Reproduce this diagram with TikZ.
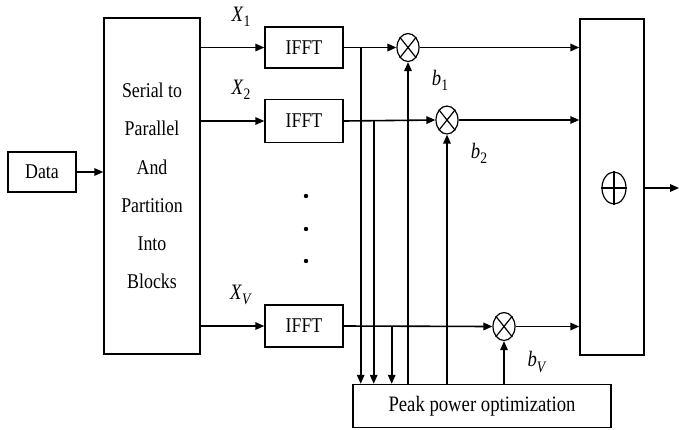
\documentclass[tikz,border=0pt]{standalone}
\usepackage{fontspec}
\setmainfont{Liberation Serif}[FakeStretch=0.85]
\usetikzlibrary{arrows.meta,shapes.geometric}
\newcommand\symb[2]{\textit{#1}\raisebox{-0.5ex}{\fontsize{16}{16}\selectfont #2}}
\begin{document}
\begin{tikzpicture}[x=1pt,y=-1pt, line width=1.6pt,
  font=\fontsize{21}{38.3}\selectfont,
  >={Triangle[length=9pt,width=7.5pt]},
  box/.style={draw, rectangle, inner sep=0pt, line width=1.4pt},
  mult/.style={draw, ellipse, minimum width=22pt, minimum height=28pt, inner sep=0pt, line width=1.2pt},
  lbl/.style={inner sep=0pt, font=\fontsize{22}{22}\selectfont}]
\useasboundingbox (0,0) rectangle (679,429);
% boxes
\node[box, minimum width=68pt, minimum height=40pt] (data) at (42,172) {Data};
\node[box, minimum width=96pt, minimum height=336pt, align=center] (sp) at (152,186)
  {Serial to\\Parallel\\And\\Partition\\Into\\Blocks};
\node[box, minimum width=78pt, minimum height=41pt] (i1) at (304,47.5) {IFFT};
\node[box, minimum width=78pt, minimum height=43pt] (i2) at (304,121) {IFFT};
\node[box, minimum width=78pt, minimum height=42pt] (iV) at (304,326) {IFFT};
\node[box, minimum width=64pt, minimum height=336pt] (sum) at (612,187) {};
\node[box, minimum width=258pt, minimum height=43pt, font=\fontsize{22}{22}\selectfont] (ppo) at (482,406) {Peak power optimization};
% multipliers
\node[mult] (m1) at (408,47.5) {};
\node[mult] (m2) at (447,120) {};
\node[mult] (mV) at (504,326.5) {};
\foreach \m in {m1,m2,mV}{
  \draw[line width=1.2pt] (\m.north east) -- (\m.south west) (\m.north west) -- (\m.south east);
}
\node[draw, ellipse, minimum width=24pt, minimum height=32pt, inner sep=0pt, line width=1.2pt] (o) at (614,188) {};
\draw[line width=1.2pt] (o.north) -- (o.south) (o.west) -- (o.east);
% dots
\foreach \yy/\n in {196/d1,229/d2,261/d3}{
  \fill (306,\yy) circle (2.2pt) coordinate (\n);
}
% labels
\node[lbl] (lx1) at (241,17) {\symb{X}{1}};
\node[lbl] (lx2) at (241,90) {\symb{X}{2}};
\node[lbl] (lxV) at (241,295) {\symb{X}{\textit{V}}};
\node[lbl] (lb1) at (440,80) {\symb{b}{1}};
\node[lbl] (lb2) at (479,153) {\symb{b}{2}};
\node[lbl] (lbV) at (537,362) {\symb{b}{\textit{V}}};
% connectors
\draw[->] (data.east) -- (sp.west |- data.east);
\draw[->] (sp.east |- i1) -- (i1.west);
\draw[->] (sp.east |- i2) -- (i2.west);
\draw[->] (sp.east |- iV) -- (iV.west);
\draw[->] (i1.east) -- (m1.west);
\draw[->] (i2.east) -- (m2.west);
\draw[->] (iV.east) -- (mV.west);
\draw[->] (m1.east) -- (sum.west |- m1);
\draw[->] (m2.east) -- (sum.west |- m2);
\draw[->] (mV.east) -- (sum.west |- mV);
\path (i1.east) ++(17,0) coordinate (j1);
\path (i2.east) ++(30,0) coordinate (j2);
\path (iV.east) ++(48,0) coordinate (jV);
\draw[->] (j1) -- (j1 |- ppo.north);
\draw[->] (j2) -- (j2 |- ppo.north);
\draw[->] (jV) -- (jV |- ppo.north);
\draw[->] (ppo.north -| m1) -- (m1.south);
\draw[->] (ppo.north -| m2) -- (m2.south);
\draw[->] (ppo.north -| mV) -- (mV.south);
\coordinate (out) at (679,188);
\draw[->] (sum.east |- o) -- (out);
\end{tikzpicture}
\end{document}
